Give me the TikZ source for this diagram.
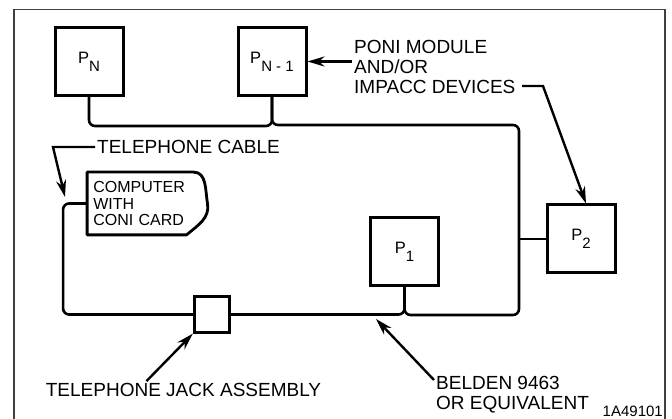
\documentclass[tikz,border=0pt]{standalone}
\usepackage{fontspec}
\setmainfont{Liberation Sans}
\usetikzlibrary{arrows.meta}
\newcommand{\dropsub}[1]{\raisebox{-8pt}{\fontsize{15}{15}\selectfont #1}}

\begin{document}
\begin{tikzpicture}
  [ x=1pt, y=-1pt
  , device/.style={rectangle, draw, line width=3pt, minimum width=68pt, minimum height=68pt, inner sep=0pt, font=\fontsize{16.5}{16.5}\selectfont}
  , jackbox/.style={rectangle, draw, line width=2.8pt, minimum size=35.5pt, inner sep=0pt}
  , callout/.style={inner sep=2pt, align=left, font=\fontsize{19}{20}\selectfont}
  , cable/.style={line width=2.6pt, rounded corners=6pt}
  , pointer/.style={line width=2.4pt, -{Stealth[length=17pt, width=10pt]}}
  ]
  \useasboundingbox (0,0) rectangle (672,419);
  \draw [line width=1.2pt, black!75] (14,425) -- (14,9.5) -- (665,9.5) -- (665,425);
  \node (0) at (89, 61.5) [device] {P\dropsub{N}};
  \node (1) at (272, 61.5) [device] {P\dropsub{N - 1}};
  \node (2) at (404.5, 251.5) [device] {P\dropsub{1}};
  \node (3) at (581, 239) [device] {P\dropsub{2}};
  \node (4) at (212, 314.5) [jackbox] {};
  \node (5) at (147.3, 203.5) [rectangle, inner sep=6pt, text width=108pt, minimum height=62.4pt, align=left, font=\fontsize{16}{16.5}\selectfont] {COMPUTER\\WITH\\CONI CARD};
  \draw [line width=2.8pt, line join=round]
    (5.south west) -- (5.north west) -- ([xshift=-14pt]5.north east)
    to [out=0, in=100] (5.east) to [out=-80, in=40] ([xshift=-21pt]5.south east) -- cycle;
  \node (6) at (352, 66.5) [callout, anchor=west] {PONI MODULE\\AND/OR\\IMPACC DEVICES};
  \node (7) at (95, 147) [callout, anchor=west] {TELEPHONE CABLE};
  \node (8) at (183.5, 390) [callout] {TELEPHONE JACK ASSEMBLY};
  \node (9) at (434, 374) [callout, anchor=north west] {BELDEN 9463\\OR EQUIVALENT};
  \node (10) at (663, 417) [anchor=base east, inner sep=0pt, font=\fontsize{15}{15}\selectfont] {1A49101};
  % cable run
  \coordinate (tr) at (519, 125);
  \coordinate (br) at (519, 315);
  \draw [cable] (0.south) |- ([yshift=-29pt]1.south) -- (1.south);
  \draw [cable] (1.south) |- (tr) |- (2.south |- br) -- (2.south);
  \draw [cable] (2.south) |- (4.east);
  \draw [cable] (4.west) -| ([xshift=-24pt]5.west) -- (5.west);
  \draw [cable] (3.west) -- (3.west -| tr);
  % callout arrows
  \coordinate (a) at (522, 86);
  \coordinate (b) at (65, 197);
  \coordinate (c) at (376, 319);
  \draw [pointer] (6.west |- 1.east) -- (1.east);
  \draw [pointer] (a) -- ++(21,0) -- ([xshift=5pt]3.north);
  \draw [pointer] (7.west) -- ++(-42,0) -- (b);
  \draw [pointer] ([xshift=-37pt]8.north) -- (4.south west);
  \draw [pointer] ([yshift=-6pt]9.north west) -- (c);
\end{tikzpicture}
\end{document}
